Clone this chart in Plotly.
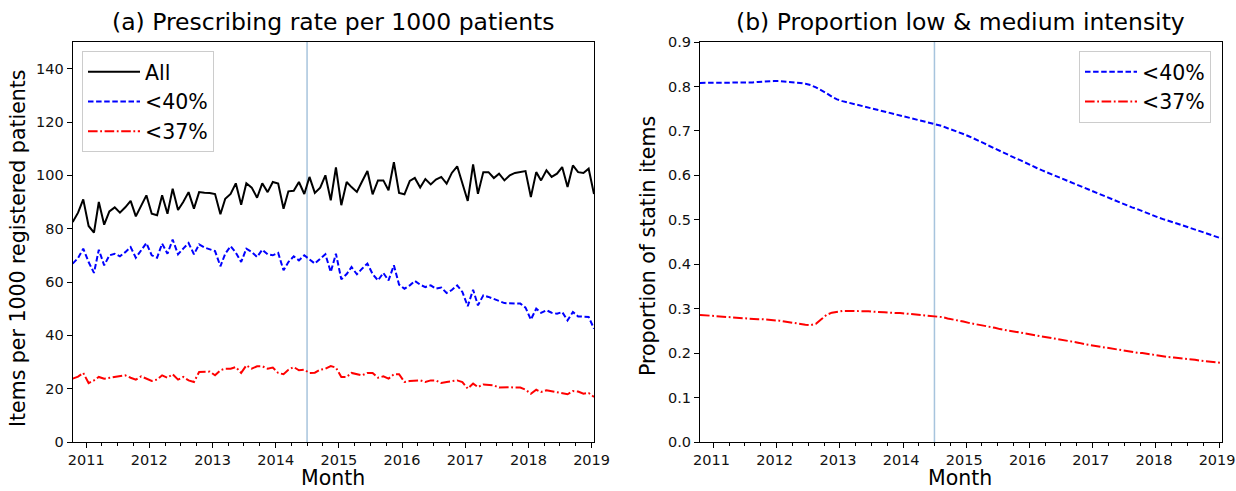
import pandas as pd
import plotly.graph_objects as go

# ---------------- data ----------------
months = pd.date_range("2010-10-01", periods=100, freq="MS") + pd.Timedelta(days=14)

rate_all = [82.5, 86, 91, 81, 78.5, 90, 81.5, 86.5, 88, 86,
            88, 90.4, 84.6, 88.5, 92.5, 85.6, 85, 92.5, 85.6, 95,
            87, 90, 93.7, 87.5, 93.7, 93.5, 93.4, 93, 85.4, 91.2,
            93, 97, 89, 97, 95.4, 91.6, 97, 93.7, 97.5, 96.9,
            87.5, 94, 94.2, 97.5, 93, 99.4, 93.4, 95.4, 100, 90.6,
            103, 88.8, 97.5, 95.6, 93.8, 97.7, 101.6, 92.9, 98.1, 98.1,
            94.4, 104.9, 93.4, 92.9, 97.9, 99, 95.4, 98.6, 96.6, 98.4,
            99.4, 96.9, 100.9, 103.4, 96.9, 90.4, 104.1, 93.1, 101.2, 101.2,
            99, 100.6, 98.1, 100, 100.9, 101.2, 101.6, 91.9, 101.2, 98.1,
            101.9, 99.4, 100.6, 103.1, 95.6, 103.7, 101.2, 100.9, 102.5, 93]

rate_40 = [66.9, 69, 72.5, 67.5, 63.4, 72.1, 66.25, 70, 70.6, 69.6,
           71.2, 73.1, 69.1, 71.9, 74.6, 70, 69.1, 74.4, 70.6, 75.9,
           70.4, 72.5, 74.6, 70.4, 74.1, 72.9, 72.3, 71.6, 65.9, 70.6,
           73.4, 71, 67.5, 72.5, 71.25, 69.4, 72.1, 70.4, 70, 70.9,
           64.4, 67.5, 69.6, 68.1, 70, 68.4, 66.9, 68.75, 70.4, 63.75,
           70.6, 61, 63, 65.6, 62.9, 65, 66.9, 63, 60.6, 63.4,
           60.6, 66.25, 59, 57.5, 58.75, 60.4, 59, 58.1, 58.75, 57.5,
           57.9, 55.9, 57, 58.75, 56.25, 50.9, 57.1, 51.25, 55, 54.4,
           53.75, 52.9, 52.1, 52.1, 52.1, 51.9, 50.4, 45.9, 50, 48.4,
           49.4, 48.5, 48.1, 48.75, 45.6, 48.75, 47.1, 47, 46.9, 42.5]

rate_37 = [23.75, 24.5, 25.9, 22.1, 23.1, 24.4, 23.75, 24.1, 24.3, 24.6,
           25, 24.1, 23.4, 24.6, 23.75, 22.9, 23.4, 25, 24.1, 25.4,
           23.4, 24.4, 23.1, 22.5, 26.25, 26.25, 26.4, 25, 26.9, 27.5,
           27.5, 28.1, 25.9, 28.75, 27.5, 28.4, 28.4, 27.5, 27.9, 25.9,
           25.4, 27.1, 28.1, 26.9, 27.1, 25.9, 26, 27.1, 27.5, 28.5,
           27.9, 24.4, 24.4, 25.9, 25.5, 25, 25.9, 25.9, 24.1, 24.6,
           23.75, 25.4, 25.4, 22.5, 22.9, 23, 23.1, 22.5, 23.1, 23.1,
           22.1, 22.5, 22.8, 23.1, 22.5, 20, 21.9, 20.6, 21.6, 21.5,
           21.25, 20.4, 20.6, 20.6, 20.4, 20.4, 19.6, 18.1, 19.6, 18.75,
           19.4, 19, 18.75, 18.4, 17.9, 19.1, 18.9, 18.1, 18.4, 16.9]

prop_40 = [0.808, 0.808, 0.808, 0.808, 0.808, 0.808, 0.808, 0.808, 0.808, 0.808,
           0.809, 0.810, 0.811, 0.812, 0.812, 0.812, 0.811, 0.810, 0.810, 0.808,
           0.806, 0.803, 0.798, 0.792, 0.785, 0.777, 0.771, 0.767, 0.764, 0.761,
           0.758, 0.755, 0.752, 0.749, 0.747, 0.744, 0.741, 0.738, 0.735, 0.731,
           0.728, 0.726, 0.723, 0.720, 0.717, 0.715, 0.711, 0.706, 0.702, 0.698,
           0.693, 0.688, 0.683, 0.677, 0.672, 0.666, 0.660, 0.654, 0.648, 0.643,
           0.638, 0.633, 0.627, 0.621, 0.616, 0.611, 0.606, 0.601, 0.597, 0.592,
           0.587, 0.582, 0.577, 0.572, 0.567, 0.562, 0.557, 0.552, 0.547, 0.542,
           0.538, 0.533, 0.528, 0.524, 0.519, 0.515, 0.510, 0.505, 0.501, 0.497,
           0.493, 0.490, 0.486, 0.482, 0.479, 0.475, 0.471, 0.467, 0.463, 0.458]

prop_37 = [0.286, 0.285, 0.284, 0.283, 0.282, 0.281, 0.280, 0.279, 0.278, 0.277,
           0.277, 0.276, 0.276, 0.275, 0.275, 0.273, 0.271, 0.269, 0.268, 0.266,
           0.264, 0.263, 0.266, 0.276, 0.286, 0.291, 0.293, 0.295, 0.295, 0.295,
           0.295, 0.294, 0.294, 0.293, 0.293, 0.292, 0.291, 0.291, 0.290, 0.289,
           0.288, 0.287, 0.286, 0.285, 0.284, 0.283, 0.281, 0.278, 0.276, 0.274,
           0.271, 0.268, 0.266, 0.263, 0.261, 0.259, 0.257, 0.254, 0.252, 0.250,
           0.248, 0.246, 0.244, 0.242, 0.240, 0.238, 0.236, 0.233, 0.231, 0.229,
           0.227, 0.225, 0.223, 0.220, 0.218, 0.216, 0.214, 0.212, 0.210, 0.209,
           0.207, 0.205, 0.203, 0.201, 0.200, 0.198, 0.196, 0.194, 0.193, 0.191,
           0.190, 0.189, 0.187, 0.186, 0.185, 0.183, 0.182, 0.181, 0.179, 0.178]

intervention_date = "2014-07-01"
left_yticks = [0, 20, 40, 60, 80, 100, 120, 140]
right_yticks = [0.0, 0.1, 0.2, 0.3, 0.4, 0.5, 0.6, 0.7, 0.8, 0.9]

# ---------------- styling ----------------
FONT = "DejaVu Sans"
W, H = 1236, 491
BLACK = "#000000"
BLUE = "#0000ff"
RED = "#ff0000"
VLINE = "#a7c4dd"
DASH = "5.5px,2.6px"
DASHDOT = "9.6px,2.6px,1.8px,2.6px"
LW = 2

def px_x(p):
    return p / W

def px_y(p):
    return 1 - p / H

L_DOM = [px_x(72.7), px_x(594)]
R_DOM = [px_x(700), px_x(1221.5)]
Y_DOM = [px_y(442), px_y(42)]

fig = go.Figure()

fig.add_trace(go.Scatter(x=months, y=rate_all, name="All", mode="lines",
                         line=dict(color=BLACK, width=LW), xaxis="x", yaxis="y",
                         legend="legend", legendgroup="a1"))
fig.add_trace(go.Scatter(x=months, y=rate_40, name="&lt;40%", mode="lines",
                         line=dict(color=BLUE, width=LW, dash=DASH), xaxis="x", yaxis="y",
                         legend="legend", legendgroup="a2"))
fig.add_trace(go.Scatter(x=months, y=rate_37, name="&lt;37%", mode="lines",
                         line=dict(color=RED, width=LW, dash=DASHDOT), xaxis="x", yaxis="y",
                         legend="legend", legendgroup="a3"))

fig.add_trace(go.Scatter(x=months, y=prop_40, name="&lt;40%", mode="lines",
                         line=dict(color=BLUE, width=LW, dash=DASH), xaxis="x2", yaxis="y2",
                         legend="legend2", legendgroup="b1"))
fig.add_trace(go.Scatter(x=months, y=prop_37, name="&lt;37%", mode="lines",
                         line=dict(color=RED, width=LW, dash=DASHDOT), xaxis="x2", yaxis="y2",
                         legend="legend2", legendgroup="b2"))

x_common = dict(
    type="date",
    range=[months[0], months[-1]],
    tick0="2011-01-01", dtick="M12", tickformat="%Y",
    ticks="outside", ticklen=5, tickwidth=1, tickcolor=BLACK,
    minor=dict(dtick="M3", tick0="2011-01-01", ticks="outside", ticklen=3,
               tickwidth=1, tickcolor=BLACK, showgrid=False),
    showgrid=False, zeroline=False,
    showline=True, linecolor=BLACK, linewidth=1, mirror=True,
    ticklabeloverflow="allow",
    tickfont=dict(family=FONT, size=14.5, color="#111111"),
)
y_common = dict(
    ticks="outside", ticklen=5, tickwidth=1, tickcolor=BLACK,
    showgrid=False, zeroline=False,
    showline=True, linecolor=BLACK, linewidth=1, mirror=True,
    ticklabeloverflow="allow",
    tickfont=dict(family=FONT, size=14.5, color="#111111"),
    domain=Y_DOM,
)

fig.update_layout(
    width=W, height=H,
    margin=dict(l=0, r=0, t=0, b=0, autoexpand=False),
    paper_bgcolor="white", plot_bgcolor="white",
    font=dict(family=FONT, color=BLACK),
    xaxis=dict(domain=L_DOM, anchor="y", **x_common),
    xaxis2=dict(domain=R_DOM, anchor="y2", ticklabelshift=-2, **x_common),
    yaxis=dict(anchor="x", range=[0, 150], tickvals=left_yticks, **y_common),
    yaxis2=dict(anchor="x2", range=[0, 0.9], tickvals=right_yticks,
                tickformat=".1f", **y_common),
    legend=dict(x=px_x(82), y=px_y(51), xanchor="left", yanchor="top",
                bgcolor="white", bordercolor="#cccccc", borderwidth=1,
                font=dict(family=FONT, size=20.5, color=BLACK),
                itemwidth=52, tracegroupgap=4, traceorder="normal"),
    legend2=dict(x=px_x(1211), y=px_y(51), xanchor="right", yanchor="top",
                 bgcolor="white", bordercolor="#cccccc", borderwidth=1,
                 font=dict(family=FONT, size=20.5, color=BLACK),
                 itemwidth=52, tracegroupgap=4, traceorder="normal"),
    showlegend=True,
)

for xr in ["x", "x2"]:
    fig.add_shape(type="line", xref=xr, yref=("y domain" if xr == "x" else "y2 domain"),
                  x0=intervention_date, x1=intervention_date, y0=0, y1=1,
                  line=dict(color=VLINE, width=1.5), layer="below")

annots = [
    dict(text="(a) Prescribing rate per 1000 patients", x=px_x(333), y=px_y(22),
         font=dict(size=23.5)),
    dict(text="(b) Proportion low &amp; medium intensity", x=px_x(960), y=px_y(22),
         font=dict(size=23.5)),
    dict(text="Month", x=px_x(333), y=px_y(478), font=dict(size=20.5)),
    dict(text="Month", x=px_x(960), y=px_y(478), font=dict(size=20.5)),
    dict(text="Items per 1000 registered patients", x=px_x(18), y=px_y(248),
         textangle=-90, font=dict(size=20.5)),
    dict(text="Proportion of statin items", x=px_x(648), y=px_y(246),
         textangle=-90, font=dict(size=20.5)),
]
for a in annots:
    fig.add_annotation(xref="paper", yref="paper", xanchor="center", yanchor="middle",
                       showarrow=False, text=a["text"], x=a["x"], y=a["y"],
                       textangle=a.get("textangle", 0),
                       font=dict(family=FONT, color=BLACK, size=a["font"]["size"]))

fig.write_html(
    "out.html",
    config={"displayModeBar": False},
    post_script="document.body.style.margin='0';document.body.style.overflow='hidden';",
)
